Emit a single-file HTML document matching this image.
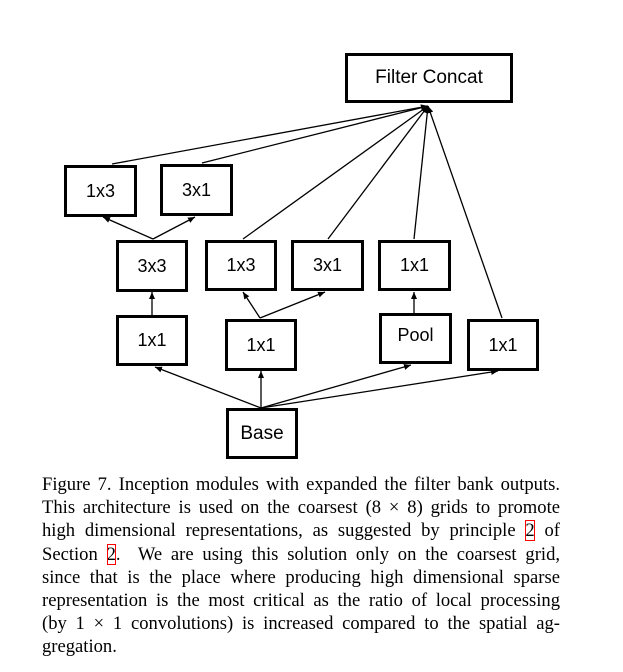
<!DOCTYPE html>
<html><head><style>
body{margin:0;background:#fff;width:623px;height:672px;position:relative;overflow:hidden}
.b{position:absolute;box-sizing:border-box;border:3px solid #000;background:#fff;font-family:"Liberation Sans",sans-serif;font-size:18px;display:flex;align-items:center;justify-content:center}
.cap{position:absolute;left:42px;width:518px;font-family:"Liberation Serif",serif;font-size:18.6px;line-height:23.2px;top:473px;color:#000}
.cap div{text-align:justify;text-align-last:justify;white-space:nowrap}
.cap div.l{text-align-last:left}
.r{outline:1px solid red;outline-offset:-1px}
</style></head><body>
<svg width="623" height="672" style="position:absolute;left:0;top:0">
<defs><marker id="a" markerWidth="8" markerHeight="8" refX="7" refY="4" orient="auto" markerUnits="userSpaceOnUse"><path d="M0,1 L7,4 L0,7z" fill="#000"/></marker></defs>
<g stroke="#000" stroke-width="1.3" fill="none" marker-end="url(#a)">
<line x1="112" y1="164" x2="428" y2="106"/>
<line x1="202" y1="163" x2="428" y2="106"/>
<line x1="243" y1="239" x2="428" y2="106"/>
<line x1="328" y1="239" x2="428" y2="106"/>
<line x1="414" y1="239" x2="428" y2="106"/>
<line x1="502" y1="318" x2="428" y2="106"/>
<line x1="153" y1="239" x2="103" y2="217"/>
<line x1="153" y1="239" x2="195" y2="217"/>
<line x1="152" y1="315" x2="152" y2="292"/>
<line x1="260" y1="318" x2="243" y2="292"/>
<line x1="260" y1="318" x2="325" y2="292"/>
<line x1="414" y1="313" x2="414" y2="292"/>
<line x1="261" y1="408" x2="155" y2="367"/>
<line x1="261" y1="408" x2="261" y2="371"/>
<line x1="261" y1="408" x2="411" y2="365"/>
<line x1="261" y1="408" x2="498" y2="371"/>
</g></svg>
<div class="b" style="left:345px;top:53px;width:168px;height:50px;font-size:19px">Filter Concat</div>
<div class="b" style="left:64px;top:165px;width:73px;height:52px">1x3</div>
<div class="b" style="left:160px;top:164px;width:73px;height:52px">3x1</div>
<div class="b" style="left:116px;top:240px;width:72px;height:52px">3x3</div>
<div class="b" style="left:205px;top:240px;width:72px;height:51px">1x3</div>
<div class="b" style="left:291px;top:240px;width:73px;height:51px">3x1</div>
<div class="b" style="left:378px;top:240px;width:73px;height:51px">1x1</div>
<div class="b" style="left:116px;top:315px;width:72px;height:51px">1x1</div>
<div class="b" style="left:225px;top:319px;width:72px;height:52px">1x1</div>
<div class="b" style="left:379px;top:313px;width:73px;height:51px;padding-bottom:6px">Pool</div>
<div class="b" style="left:467px;top:319px;width:72px;height:52px">1x1</div>
<div class="b" style="left:226px;top:408px;width:72px;height:51px;font-size:19px">Base</div>
<div class="cap">
<div>Figure 7. Inception modules with expanded the filter bank outputs.</div>
<div>This architecture is used on the coarsest (8 × 8) grids to promote</div>
<div>high dimensional representations, as suggested by principle <span class="r">2</span> of</div>
<div>Section <span class="r">2</span>.&nbsp; We are using this solution only on the coarsest grid,</div>
<div>since that is the place where producing high dimensional sparse</div>
<div>representation is the most critical as the ratio of local processing</div>
<div>(by 1 × 1 convolutions) is increased compared to the spatial ag-</div>
<div class="l">gregation.</div>
</div>
</body></html>
